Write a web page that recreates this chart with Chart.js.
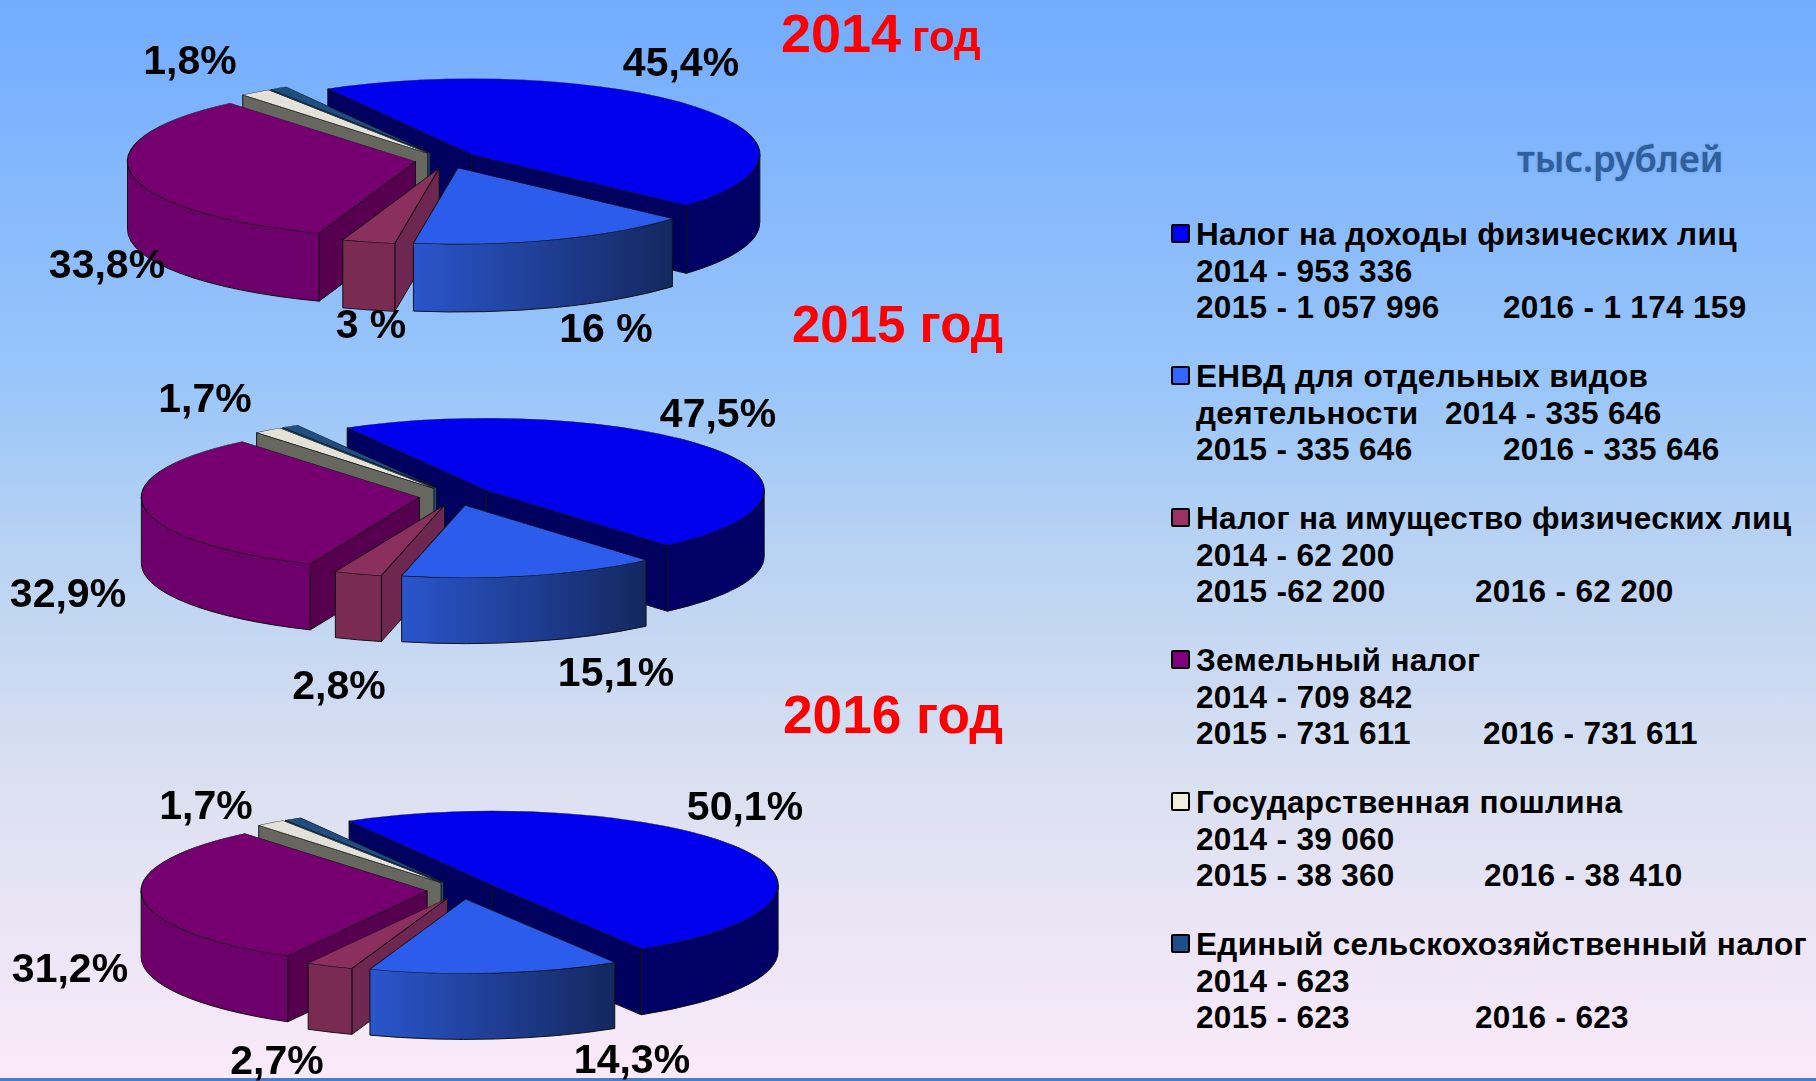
<!DOCTYPE html>
<html lang="ru">
<head>
<meta charset="utf-8">
<title>Налоговые доходы</title>
<script src="https://cdn.jsdelivr.net/npm/chart.js@4"></script>
<style>
  html, body { margin: 0; padding: 0; }
  body {
    width: 1816px; height: 1081px; overflow: hidden; position: relative;
    background: linear-gradient(180deg, #72acff 0%, #9ac6f9 36%, #b7d2f3 50%, #dae0f1 72%, #fbeaf9 100%);
    font-family: "Liberation Sans", Arial, sans-serif; font-weight: bold; color: #000;
  }
  canvas { position: absolute; }
  .txt { position: absolute; white-space: pre; line-height: 1; }
  .pct { font-size: 41px; transform: translate(-50%, -50%); }
  .year { color: #f00; transform: translateY(-50%); }
  .leg { font-size: 31.5px; letter-spacing: 0.33px; transform: translateY(-50%); }
  .swatch { position: absolute; width: 15px; height: 15px; border: 2px solid #000; border-radius: 2px; }
  #unit { left: 1517px; top: 158px; font: 600 36.3px "Noto Sans", sans-serif; color: #2f5f9c; transform: translateY(-50%); text-shadow: 0 0 2px #2f5f9c88; }
  #strip { position: absolute; left: 0; top: 1078px; width: 1816px; height: 3px; background: #4a7ec0; }
</style>
</head>
<body>
<div id="strip"></div>
<div class="txt" id="unit">тыс.рублей</div>
<script>
// slices go clockwise from the blue one
const categories = ['Налог на доходы физических лиц', 'ЕНВД для отдельных видов деятельности', 'Налог на имущество физических лиц', 'Земельный налог', 'Государственная пошлина', 'Единый сельскохозяйственный налог'];
// percent shares read from the labels, last one estimated from the sliver width
const shares2014 = [45.4, 16, 3, 33.8, 1.8, 1];
const shares2015 = [47.5, 15.1, 2.8, 32.9, 1.7, 1];
const shares2016 = [50.1, 14.3, 2.7, 31.2, 1.7, 1];
const labels2014 = ['45,4%', '16 %', '3 %', '33,8%', '1,8%'];
const labels2015 = ['47,5%', '15,1%', '2,8%', '32,9%', '1,7%'];
const labels2016 = ['50,1%', '14,3%', '2,7%', '31,2%', '1,7%'];

const legendNames = ['Налог на доходы физических лиц', 'ЕНВД для отдельных видов', 'Налог на имущество физических лиц', 'Земельный налог', 'Государственная пошлина', 'Единый сельскохозяйственный налог'];
const legendSecond = ['2014 - 953 336', 'деятельности', '2014 - 62 200', '2014 - 709 842', '2014 - 39 060', '2014 - 623'];
const legend2015 = ['2015 - 1 057 996', '2015 - 335 646', '2015 -62 200', '2015 - 731 611', '2015 - 38 360', '2015 - 623'];
const legend2016 = ['2016 - 1 174 159', '2016 - 335 646', '2016 - 62 200', '2016 - 731 611', '2016 - 38 410', '2016 - 623'];

// colours: top face, outer band, radial wall
const topColors = ['#0000ee', '#2b5cec', '#8b2f5e', '#770070', '#e4e2d8', '#1f4e80'];
const bandColors = ['#000066', null, '#7a2b52', '#6d006a', '#666860', '#1f4e80'];
const wallColors = ['#00005e', '#14285f', '#6e2750', '#57004f', '#666860', '#1f4e80'];
const swatchColors = ['#0000ff', '#3366ff', '#993366', '#800080', '#f0eedd', '#1f4e8a'];

// 3d look: push slices out, draw side walls, squash the library's arcs
const pie3d = {
  id: 'pie3d',
  afterDatasetsUpdate(chart, args, opts) {
    chart.getDatasetMeta(0).data.forEach(function(arc) {
      const mid = (arc.startAngle + arc.endAngle) / 2;
      arc.x += Math.cos(mid) * opts.explode;
      arc.y += Math.sin(mid) * opts.explode;
    });
  },
  beforeDatasetsDraw(chart, args, opts) {
    const ctx = chart.ctx;
    const arcs = chart.getDatasetMeta(0).data;
    const y0 = chart.height / 2;
    ctx.save();
    ctx.lineWidth = 1;
    ctx.strokeStyle = '#111';
    // back to front
    [0, 5, 4, 3, 2, 1].forEach(function(i) {
      const arc = arcs[i];
      const r = arc.outerRadius, k = opts.squash, d = opts.depth;
      const x = arc.x, y = y0 + (arc.y - y0) * k;
      const wall = function(a) {
        ctx.beginPath();
        ctx.moveTo(x, y);
        ctx.lineTo(x + r * Math.cos(a), y + r * k * Math.sin(a));
        ctx.lineTo(x + r * Math.cos(a), y + r * k * Math.sin(a) + d);
        ctx.lineTo(x, y + d);
        ctx.closePath();
        ctx.fillStyle = wallColors[i];
        ctx.fill();
        ctx.stroke();
      };
      if (Math.cos(arc.startAngle) < 0) wall(arc.startAngle);
      if (Math.cos(arc.endAngle) > 0) wall(arc.endAngle);
      const b0 = Math.max(arc.startAngle, 0), b1 = Math.min(arc.endAngle, Math.PI);
      if (b0 < b1) {
        ctx.beginPath();
        ctx.ellipse(x, y, r, r * k, 0, b0, b1);
        ctx.ellipse(x, y + d, r, r * k, 0, b1, b0, true);
        ctx.closePath();
        if (bandColors[i]) {
          ctx.fillStyle = bandColors[i];
        } else {
          const grad = ctx.createLinearGradient(x + r * Math.cos(b1), 0, x + r * Math.cos(b0), 0);
          grad.addColorStop(0, '#2a55cc');
          grad.addColorStop(1, '#14285f');
          ctx.fillStyle = grad;
        }
        ctx.fill();
        ctx.stroke();
      }
    });
    ctx.restore();
    // the top faces are the chart's own arcs, drawn through this squash
    ctx.save();
    ctx.translate(0, y0);
    ctx.scale(1, opts.squash);
    ctx.translate(0, -y0);
  },
  afterDatasetsDraw(chart) {
    chart.ctx.restore();
  }
};

function addPie(shares, cx, cy, radius, squash, depth, explode, rotation) {
  const canvas = document.createElement('canvas');
  canvas.width = 760;
  canvas.height = 360;
  canvas.style.left = (cx - 380) + 'px';
  canvas.style.top = (cy - 180) + 'px';
  document.body.appendChild(canvas);
  new Chart(canvas, {
    type: 'pie',
    data: {
      labels: categories,
      datasets: [{
        data: shares,
        backgroundColor: topColors,
        borderColor: '#111',
        borderWidth: 1.2,
        clip: false
      }]
    },
    options: {
      responsive: false,
      animation: false,
      radius: radius,
      rotation: rotation,
      plugins: {
        legend: { display: false },
        tooltip: { enabled: false },
        pie3d: { squash: squash, depth: depth, explode: explode }
      }
    },
    plugins: [pie3d]
  });
}

function addText(cls, text, x, y, size, color) {
  const el = document.createElement('div');
  el.className = 'txt ' + cls;
  el.textContent = text;
  el.style.left = x + 'px';
  el.style.top = y + 'px';
  if (size) el.style.fontSize = size + 'px';
  if (color) el.style.color = color;
  document.body.appendChild(el);
  return el;
}

addPie(shares2014, 447, 160, 288, 0.264, 68, 32, -30);
addPie(shares2015, 456, 496, 278, 0.26, 66, 37, -30);
addPie(shares2016, 462, 890, 286, 0.26, 66, 35, -30);

// year titles
addText('year', '2014', 781, 33, 54);
addText('year', 'год', 912, 37, 42);
addText('year', '2015 год', 792, 324, 51);
addText('year', '2016 год', 783, 715, 53.2);

// percent labels, same order as the slices
const labelSpots = [
  [[681, 62], [606, 328], [371, 324], [107, 264], [190, 60]],
  [[718, 413], [616, 672], [339, 685], [68, 593], [205, 398]],
  [[745, 806], [632, 1059], [277, 1060], [70, 968], [206, 805]]
];
[labels2014, labels2015, labels2016].forEach(function(labels, p) {
  labels.forEach(function(text, i) {
    addText('pct', text, labelSpots[p][i][0], labelSpots[p][i][1]);
  });
});

// legend blocks
const legendY = [235, 377, 519, 661, 803, 945];
const col2 = [1503, 1503, 1475, 1483, 1484, 1475];
legendNames.forEach(function(name, i) {
  const y = legendY[i];
  const sw = document.createElement('div');
  sw.className = 'swatch';
  sw.style.left = '1171px';
  sw.style.top = (y - 11) + 'px';
  sw.style.background = swatchColors[i];
  document.body.appendChild(sw);
  addText('leg', name, 1196, y);
  addText('leg', legendSecond[i], 1196, y + 37);
  addText('leg', legend2015[i], 1196, y + 73);
  addText('leg', legend2016[i], col2[i], y + 73);
});
addText('leg', '2014 - 335 646', 1445, legendY[1] + 37);
</script>
</body>
</html>
